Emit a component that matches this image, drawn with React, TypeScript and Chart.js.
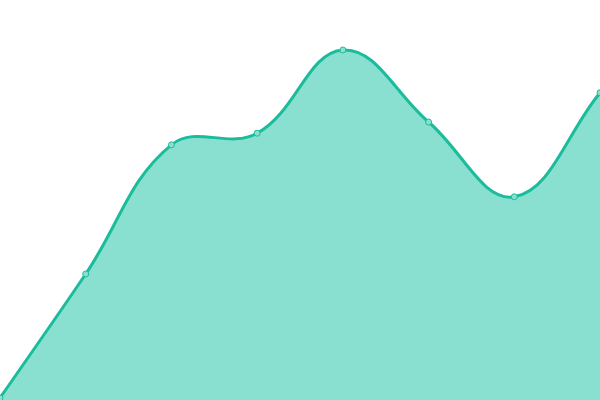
import { useEffect, useRef } from "react"
import { Chart, registerables } from "chart.js"

Chart.register(...registerables)

const labels = ["1", "2", "3", "4", "5", "6", "7", "8"]
const values = [0.5, 31.5, 63.8, 66.7, 87.5, 69.5, 50.8, 76.8]

export default function App() {
  const chartRef = useRef<HTMLCanvasElement>(null)
  const chartInstance = useRef<Chart | null>(null)

  useEffect(() => {
    document.body.style.margin = "0"
    if (!chartRef.current) return
    const ctx = chartRef.current.getContext("2d")
    if (!ctx) return

    chartInstance.current = new Chart(ctx, {
      type: "line",
      data: {
        labels,
        datasets: [
          {
            data: values,
            borderColor: "#1abc9c",
            backgroundColor: "#8ae0d0",
            borderWidth: 3,
            fill: true,
            tension: 0.4,
            pointRadius: 3,
            pointBackgroundColor: "#8ae0d0",
            pointBorderColor: "#1abc9c",
            pointBorderWidth: 1,
          },
        ],
      },
      options: {
        responsive: true,
        maintainAspectRatio: false,
        animation: false,
        layout: { padding: 0, autoPadding: false },
        scales: {
          x: { display: false },
          y: { display: false, min: 0, max: 100 },
        },
        plugins: {
          legend: { display: false },
          tooltip: { enabled: false },
        },
      },
    })

    return () => {
      if (chartInstance.current) {
        chartInstance.current.destroy()
      }
    }
  }, [])

  return (
    <div style={{ width: 600, height: 400, position: "relative" }}>
      <canvas ref={chartRef} />
    </div>
  )
}
